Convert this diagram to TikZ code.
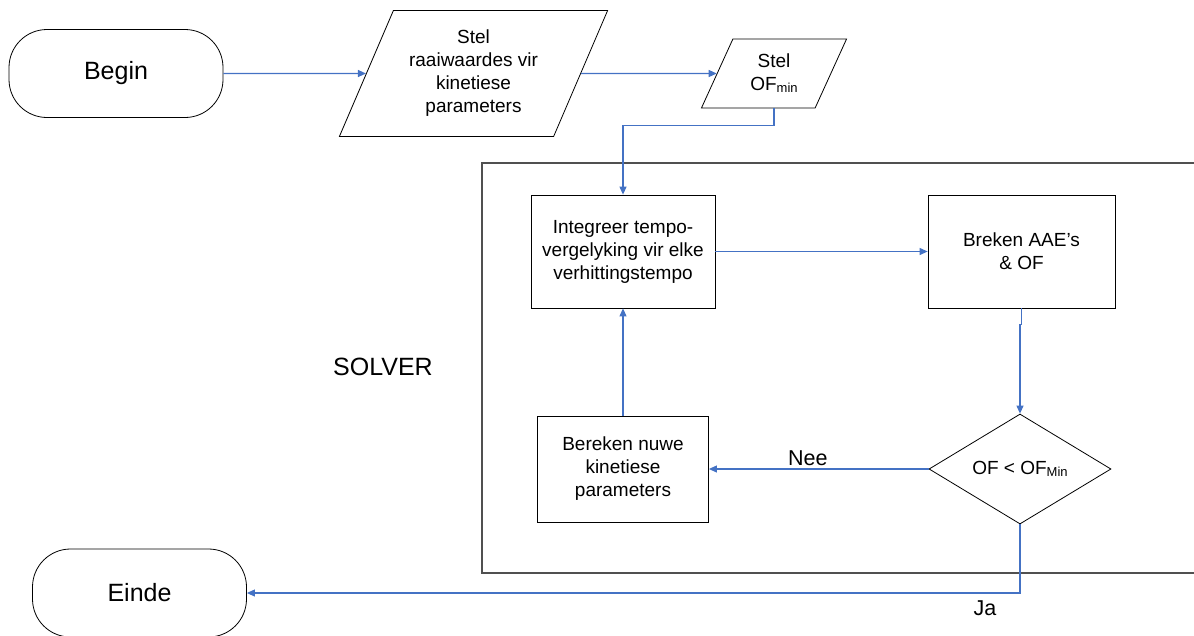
\documentclass[tikz,border=0pt]{standalone}
\usepackage{fontspec}
\setmainfont{Liberation Sans}
\usetikzlibrary{shapes.geometric,arrows.meta,calc}
\definecolor{linkblue}{RGB}{68,114,196}
\definecolor{framegray}{RGB}{80,80,80}
% lowered, smaller index text (OF_min)
\newcommand{\lowidx}[1]{\raisebox{-2pt}{\fontsize{13}{13}\selectfont #1}}

\begin{document}
\begin{tikzpicture}[x=1pt,y=-1pt,
  boxtxt/.style={font=\fontsize{19}{23}\selectfont, align=center},
  procbox/.style={draw, line width=0.8pt, rectangle, inner sep=0pt, boxtxt},
  terminal/.style={draw, line width=0.8pt, rectangle, rounded corners=38pt,
    minimum width=214pt, minimum height=88pt, inner sep=0pt,
    font=\fontsize{25}{30}\selectfont},
  iobox/.style={draw, line width=0.8pt, trapezium, trapezium stretches=true,
    inner sep=0pt, boxtxt},
  decision/.style={draw, line width=0.8pt, diamond, aspect=1.65, inner sep=0pt, boxtxt},
  conn/.style={draw=linkblue, line width=1.1pt,
    -{Triangle[length=8pt,width=7pt,fill=linkblue]}},
  lbl/.style={font=\fontsize{21.5}{26}\selectfont, inner sep=0pt},
]
\useasboundingbox (0,0) rectangle (1194,635);

% solver frame, open to the right
\draw[framegray, line width=1.4pt] (1196,163) -- (482,163) -- (482,573) -- (1196,573);
\node[font=\fontsize{25}{30}\selectfont, inner sep=0pt] (solver) at (383,367) {SOLVER};

% terminals
\node[terminal] (begin) at (116,73.5) {Begin};
\node[terminal] (einde) at (139.5,593) {Einde};

% input boxes
\node[iobox, minimum width=269pt, minimum height=126pt,
  trapezium left angle=63.4, trapezium right angle=116.6]
  (p1) at (473.5,73.5) {Stel\\raaiwaardes vir\\kinetiese\\parameters};
\node[iobox, minimum width=146pt, minimum height=69pt,
  trapezium left angle=65, trapezium right angle=115]
  (p2) at (774,73.5) {Stel\\OF\lowidx{min}};

% process boxes
\node[procbox, minimum width=184pt, minimum height=113pt] (integ) at (623,251.5)
  {Integreer tempo-\\vergelyking vir elke\\verhittingstempo};
\node[procbox, minimum width=187pt, minimum height=113pt] (brek) at (1021.5,251.5)
  {Breken AAE’s\\\& OF};
\node[procbox, minimum width=171pt, minimum height=106pt] (bere) at (623,469)
  {Bereken nuwe\\kinetiese\\parameters};

% decision
\node[decision, minimum width=182pt, minimum height=110pt] (dia) at (1020,469)
  {OF < OF\lowidx{Min}};

% connectors
\draw[conn] (begin.east) -- (p1.west);
\draw[conn] (p1.east) -- (p2.west);
\draw[conn] (p2.center |- p2.south) -- ++(0,17) -| (integ.north);
\draw[conn] (integ.east) -- (brek.west);
\draw[conn] (brek.south) -- ++(0,16) -| (dia.north);
\draw[conn] (dia.west) -- node[lbl, above=3pt, pos=0.55] (nee) {Nee} (bere.east);
\draw[conn] (bere.north) -- (integ.south);
\draw[conn] (dia.south) |- (einde.east);
\node[lbl] (ja) at (985,608) {Ja};
\end{tikzpicture}
\end{document}
